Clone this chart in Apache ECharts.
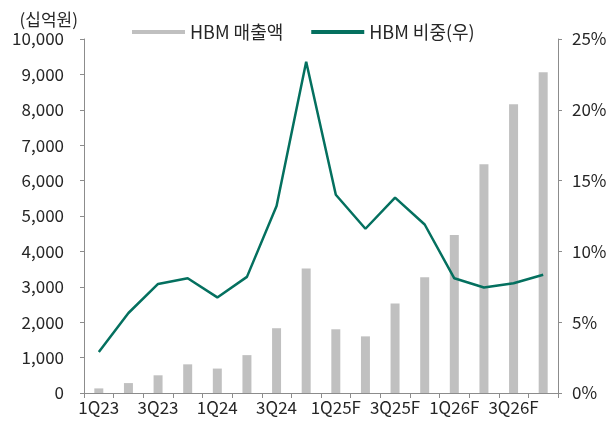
<!DOCTYPE html>
<html>
<head>
<meta charset="utf-8">
<script src="https://cdn.jsdelivr.net/npm/echarts@6/dist/echarts.min.js"></script>
<style>
  html, body { margin: 0; padding: 0; background: #fff; }
  #main { width: 614px; height: 421px; }
</style>
</head>
<body>
<div id="main"></div>
<script>
var quarters = ['1Q23', '2Q23', '3Q23', '4Q23', '1Q24', '2Q24', '3Q24', '4Q24',
    '1Q25F', '2Q25F', '3Q25F', '4Q25F', '1Q26F', '2Q26F', '3Q26F', '4Q26F'];
// HBM 매출액 (십억원)
var hbmSales = [130, 280, 500, 810, 690, 1070, 1830, 3520,
    1800, 1600, 2530, 3270, 4460, 6460, 8160, 9060];
// HBM 비중 (%)
var hbmShare = [2.9, 5.65, 7.7, 8.1, 6.75, 8.2, 13.2, 23.4,
    14.0, 11.6, 13.8, 11.9, 8.1, 7.45, 7.75, 8.35];

var FONT = '"Noto Sans CJK KR", "Noto Sans", sans-serif';
var TEXT = '#262626';
var AXIS = '#8c8c8c';
var LINE = '#04705f';

var chart = echarts.init(document.getElementById('main'));

var option = {
    animation: false,
    textStyle: { fontFamily: FONT },
    grid: { left: 84, right: 56, top: 39, bottom: 28, containLabel: false },
    legend: {
        left: 127,
        top: 18,
        itemGap: 28,
        itemWidth: 53,
        itemHeight: 4,
        textStyle: { fontSize: 18, color: TEXT, fontFamily: FONT },
        data: [
            { name: 'HBM 매출액', icon: 'rect' },
            { name: 'HBM 비중(우)', icon: 'rect', itemStyle: { color: LINE } }
        ]
    },
    xAxis: {
        type: 'category',
        data: quarters,
        axisLine: { lineStyle: { color: AXIS } },
        axisTick: { show: true, interval: 0, length: 5, lineStyle: { color: AXIS } },
        axisLabel: { interval: 1, color: TEXT, fontSize: 17, margin: 6, fontFamily: FONT }
    },
    yAxis: [
        {
            type: 'value',
            min: 0,
            max: 10000,
            interval: 1000,
            name: '(십억원)',
            nameLocation: 'end',
            nameGap: 11,
            nameTextStyle: { color: TEXT, fontSize: 17, align: 'right', padding: [0, 6, 0, 0], fontFamily: FONT },
            splitLine: { show: false },
            axisLine: { show: true, lineStyle: { color: AXIS } },
            axisTick: { show: true, length: 4, lineStyle: { color: AXIS } },
            axisLabel: {
                color: TEXT, fontSize: 17, margin: 20, fontFamily: FONT,
                formatter: function (v) { return v.toLocaleString('en-US'); }
            }
        },
        {
            type: 'value',
            min: 0,
            max: 25,
            interval: 5,
            position: 'right',
            splitLine: { show: false },
            axisLine: { show: true, lineStyle: { color: AXIS } },
            axisTick: { show: true, length: 4, lineStyle: { color: AXIS } },
            axisLabel: { color: TEXT, fontSize: 17, margin: 14, formatter: '{value}%', fontFamily: FONT }
        }
    ],
    series: [
        {
            name: 'HBM 매출액',
            type: 'bar',
            data: hbmSales,
            barWidth: 9,
            itemStyle: { color: '#c0c0c0' }
        },
        {
            name: 'HBM 비중(우)',
            type: 'line',
            yAxisIndex: 1,
            data: hbmShare,
            symbol: 'none',
            lineStyle: { color: LINE, width: 2.5 },
            itemStyle: { color: LINE }
        }
    ]
};

chart.setOption(option);
</script>
</body>
</html>
